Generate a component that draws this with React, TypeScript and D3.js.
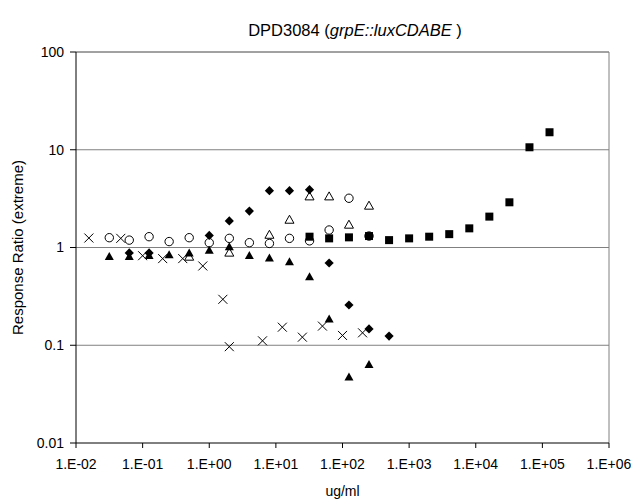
import React from "react";
import * as d3 from "d3";

const W = 637;
const H = 502;

const xTicks = [1e-2, 1e-1, 1e0, 1e1, 1e2, 1e3, 1e4, 1e5, 1e6];
const xTickLabels = ["1.E-02", "1.E-01", "1.E+00", "1.E+01", "1.E+02", "1.E+03", "1.E+04", "1.E+05", "1.E+06"];
const yTicks = [0.01, 0.1, 1, 10, 100];
const yTickLabels = ["0.01", "0.1", "1", "10", "100"];

// open circles
const circleX = [0.0316, 0.063, 0.125, 0.25, 0.5, 1, 2, 4, 8, 16, 32, 63, 125, 250];
const circleY = [1.26, 1.19, 1.29, 1.15, 1.26, 1.12, 1.24, 1.12, 1.1, 1.24, 1.17, 1.51, 3.19, 1.31];

// filled triangles
const triX = [0.0316, 0.063, 0.125, 0.25, 0.5, 1, 2, 4, 8, 16, 32, 63, 125, 250];
const triY = [0.805, 0.805, 0.824, 0.838, 0.873, 0.93, 1.01, 0.82, 0.775, 0.71, 0.5, 0.184, 0.047, 0.063];

// open triangles
const otriX = [0.5, 2, 8, 16, 32, 63, 125, 250];
const otriY = [0.8, 0.88, 1.34, 1.91, 3.31, 3.31, 1.7, 2.66];

// filled diamonds
const diaX = [0.063, 0.125, 1, 2, 4, 8, 16, 32, 63, 125, 250, 500];
const diaY = [0.88, 0.88, 1.33, 1.87, 2.36, 3.81, 3.81, 3.9, 0.694, 0.258, 0.147, 0.124];

// filled squares
const sqX = [32, 63, 125, 250, 500, 1000, 2000, 4000, 8000, 16000, 32000, 64000, 128000];
const sqY = [1.29, 1.24, 1.27, 1.31, 1.19, 1.24, 1.29, 1.37, 1.57, 2.07, 2.9, 10.6, 15.1];

// crosses
const crossX = [0.0156, 0.047, 0.1, 0.2, 0.4, 0.8, 1.6, 2.0, 6.3, 12.5, 25, 50, 100, 200];
const crossY = [1.25, 1.24, 0.824, 0.77, 0.77, 0.647, 0.295, 0.0967, 0.111, 0.153, 0.121, 0.157, 0.126, 0.134];

const FONT = "'Liberation Sans', Arial, sans-serif";

export default function App() {
  const left = 76;
  const right = 609;
  const top = 52;
  const bottom = 443;

  const x = d3.scaleLog().domain([1e-2, 1e6]).range([left, right]);
  const y = d3.scaleLog().domain([0.01, 100]).range([bottom, top]);

  const zip = (xs: number[], ys: number[]) => xs.map((v, i) => [x(v), y(ys[i])] as [number, number]);

  const tri = (cx: number, cy: number, w = 9, h = 8) =>
    `M${cx},${cy - h * 0.6}L${cx + w / 2},${cy + h * 0.4}L${cx - w / 2},${cy + h * 0.4}Z`;
  const dia = (cx: number, cy: number, r = 4.6) =>
    `M${cx},${cy - r}L${cx + r},${cy}L${cx},${cy + r}L${cx - r},${cy}Z`;

  return (
    <svg width={W} height={H} style={{ position: "absolute", left: 0, top: 0, background: "#fff" }}>
      <rect x={0} y={0} width={W} height={H} fill="#fff" />
      {/* gridlines */}
      {yTicks.slice(1).map((t) => (
        <line key={"g" + t} x1={left} x2={right} y1={y(t)} y2={y(t)} stroke={t === 100 ? "#444" : "#808080"} strokeWidth={1} />
      ))}
      {/* plot border */}
      <line x1={right} x2={right} y1={top} y2={bottom} stroke="#808080" strokeWidth={1} />
      {/* axes */}
      <line x1={left} x2={left} y1={top} y2={bottom} stroke="#000" strokeWidth={1} />
      <line x1={left} x2={right} y1={bottom} y2={bottom} stroke="#000" strokeWidth={1} />
      {yTicks.map((t, i) => (
        <g key={"yt" + t}>
          <line x1={left - 6} x2={left} y1={y(t)} y2={y(t)} stroke="#000" />
          <text x={left - 12} y={y(t)} dy="0.35em" textAnchor="end" fontFamily={FONT} fontSize={14}>
            {yTickLabels[i]}
          </text>
        </g>
      ))}
      {xTicks.map((t, i) => (
        <g key={"xt" + t}>
          <line x1={x(t)} x2={x(t)} y1={bottom} y2={bottom + 5} stroke="#000" />
          <text x={x(t)} y={bottom + 26} textAnchor="middle" fontFamily={FONT} fontSize={14}>
            {xTickLabels[i]}
          </text>
        </g>
      ))}
      <text x={(left + right) / 2} y={496} textAnchor="middle" fontFamily={FONT} fontSize={14}>
        ug/ml
      </text>
      <text
        transform={`translate(23,${(top + bottom) / 2}) rotate(-90)`}
        textAnchor="middle"
        fontFamily={FONT}
        fontSize={15}
      >
        Response Ratio (extreme)
      </text>
      <text x={355} y={36} textAnchor="middle" fontFamily={FONT} fontSize={16.5}>
        DPD3084 (<tspan fontStyle="italic">grpE::luxCDABE</tspan> )
      </text>

      {/* squares */}
      {zip(sqX, sqY).map(([cx, cy], i) => (
        <rect key={"s" + i} x={cx - 4} y={cy - 4} width={8} height={8} fill="#000" />
      ))}
      {/* open circles */}
      {zip(circleX, circleY).map(([cx, cy], i) => (
        <circle key={"c" + i} cx={cx} cy={cy} r={4.2} fill="none" stroke="#000" strokeWidth={1} />
      ))}
      {/* open triangles */}
      {zip(otriX, otriY).map(([cx, cy], i) => (
        <path key={"ot" + i} d={tri(cx, cy)} fill="none" stroke="#000" strokeWidth={1} />
      ))}
      {/* filled triangles */}
      {zip(triX, triY).map(([cx, cy], i) => (
        <path key={"t" + i} d={tri(cx, cy)} fill="#000" />
      ))}
      {/* diamonds */}
      {zip(diaX, diaY).map(([cx, cy], i) => (
        <path key={"d" + i} d={dia(cx, cy)} fill="#000" />
      ))}
      {/* crosses */}
      {zip(crossX, crossY).map(([cx, cy], i) => (
        <path
          key={"x" + i}
          d={`M${cx - 4.5},${cy - 4.5}L${cx + 4.5},${cy + 4.5}M${cx - 4.5},${cy + 4.5}L${cx + 4.5},${cy - 4.5}`}
          stroke="#000"
          strokeWidth={1}
          fill="none"
        />
      ))}
    </svg>
  );
}
